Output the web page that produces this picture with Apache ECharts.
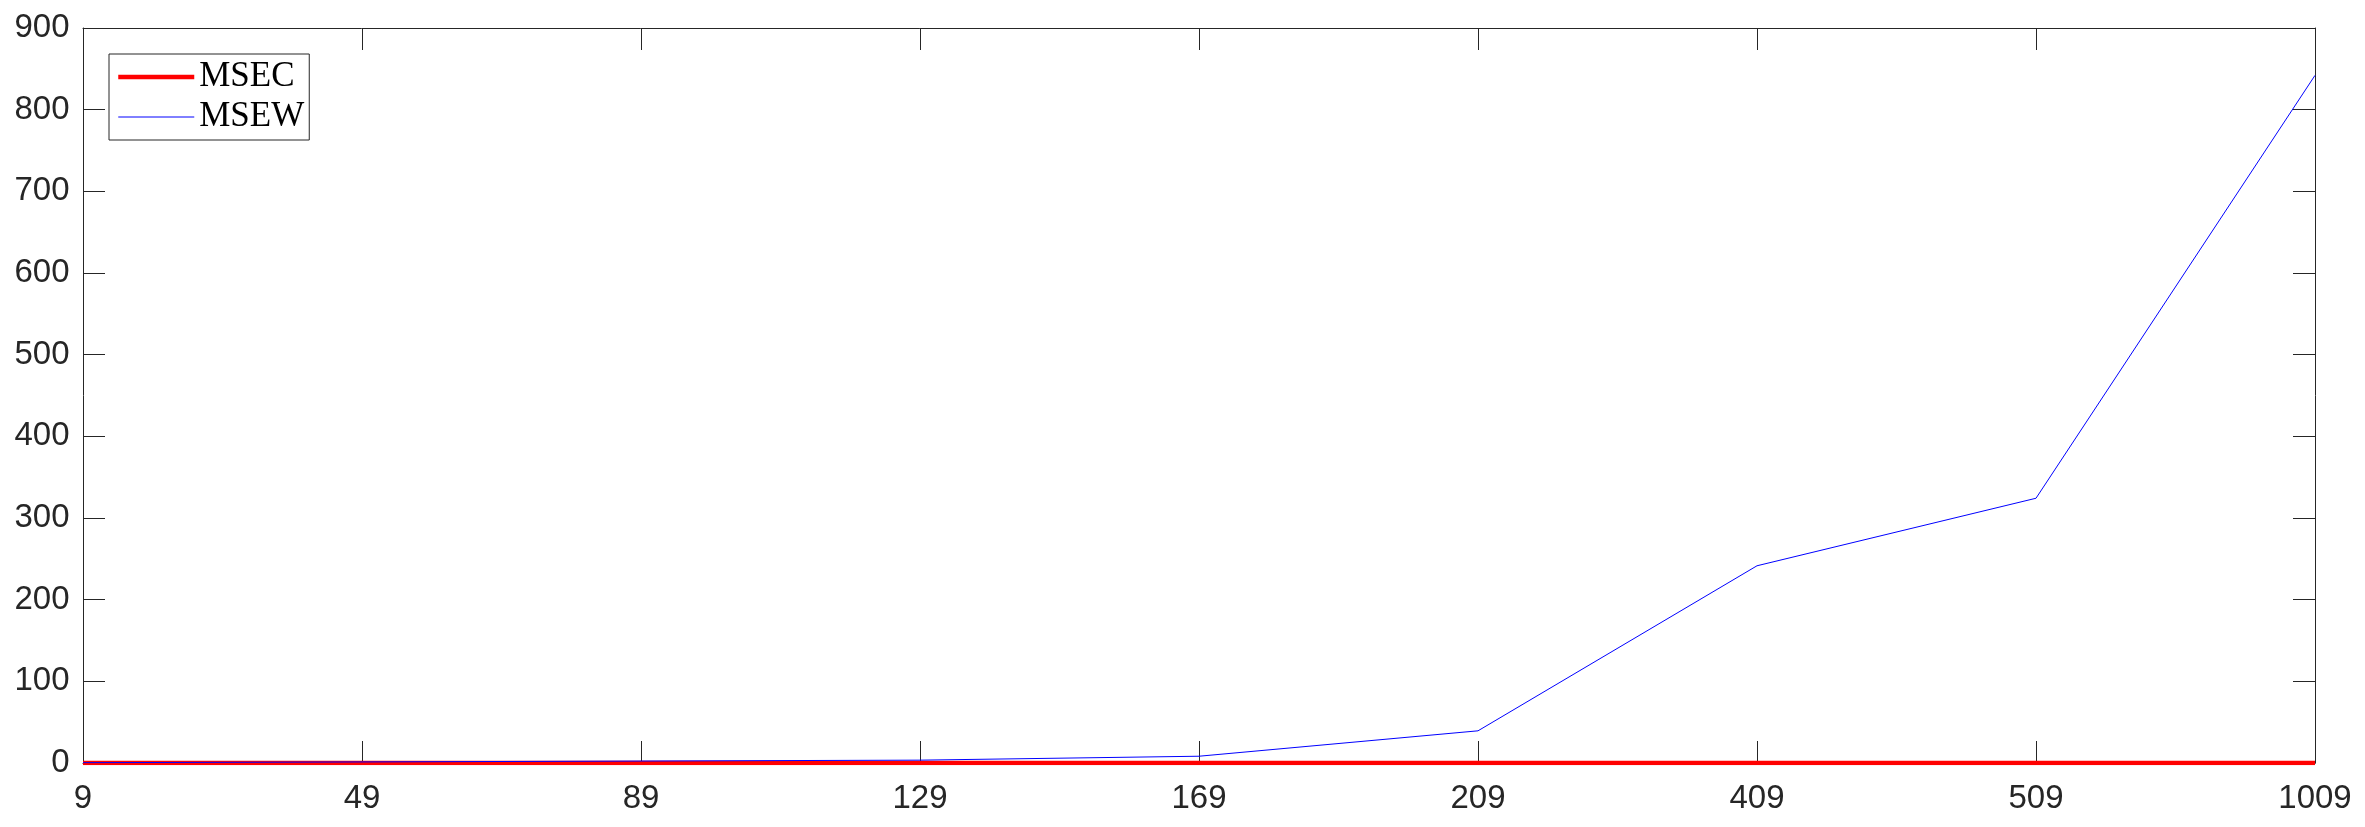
<!DOCTYPE html>
<html>
<head>
<meta charset="utf-8">
<script src="https://cdn.jsdelivr.net/npm/echarts@6/dist/echarts.min.js"></script>
<style>
  html, body { margin: 0; padding: 0; background: #fff; }
  #chart { width: 2365px; height: 827px; }
</style>
</head>
<body>
<div id="chart"></div>
<script>
// x categories (equally spaced)
var categories = ['9', '49', '89', '129', '169', '209', '409', '509', '1009'];
// series values
var msec = [0, 0, 0, 0, 0, 0, 0, 0, 0];
var msew = [0.4, 1.3, 2.4, 3.5, 8.3, 39.4, 241.5, 324.2, 842];
var yTicks = { min: 0, max: 900, step: 100 };

var axisColor = '#262626';
var myChart = echarts.init(document.getElementById('chart'));

// y轴标签补齐到3位(透明数字), 居中放置后效果等同右对齐
function yLabel (v) {
    var s = String(v);
    var pad = '';
    for (var i = s.length; i < 3; i++) pad += '0';
    return (pad ? '{h|' + pad + '}' : '') + '{a|' + s + '}';
}

var option = {
    animation: false,
    backgroundColor: '#fff',
    grid: {
        left: 83,
        right: 50,
        top: 28,
        bottom: 64,
        containLabel: false
    },
    legend: {
        data: [
            { name: 'MSEC', lineStyle: { width: 4.5 } },
            { name: 'MSEW', lineStyle: { width: 1 } }
        ],
        orient: 'vertical',
        left: 109,
        top: 54,
        padding: [5, 5, 5, 7],
        itemWidth: 76,
        itemHeight: 14,
        itemGap: 4,
        backgroundColor: '#fff',
        borderColor: axisColor,
        borderWidth: 1,
        itemStyle: { color: 'rgba(0,0,0,0)', borderWidth: 0 }, // 图例不显示圆点
        textStyle: {
            fontFamily: 'Liberation Serif',
            fontSize: 35,
            lineHeight: 36,
            color: '#000'
        }
    },
    xAxis: [{
        type: 'category',
        data: categories,
        boundaryGap: false,
        axisLine: { onZero: false, lineStyle: { color: axisColor, width: 1 } },
        axisTick: { inside: true, length: 22, interval: 0, lineStyle: { color: axisColor } },
        axisLabel: {
            interval: 0,
            margin: 24,
            lineHeight: 24,
            fontFamily: 'Liberation Sans',
            fontSize: 33,
            color: axisColor
        },
        splitLine: { show: false }
    }, {
        // 上边框
        type: 'category',
        position: 'top',
        data: categories,
        boundaryGap: false,
        axisLine: { show: true, onZero: false, lineStyle: { color: axisColor, width: 1 } },
        axisTick: { show: true, inside: true, length: 22, interval: 0, lineStyle: { color: axisColor, width: 1 } },
        axisLabel: { show: false },
        splitLine: { show: false }
    }],
    yAxis: [{
        type: 'value',
        min: yTicks.min,
        max: yTicks.max,
        interval: yTicks.step,
        axisLine: { show: true, onZero: false, lineStyle: { color: axisColor, width: 1 } },
        axisTick: { show: true, inside: true, length: 22, lineStyle: { color: axisColor } },
        axisLabel: {
            margin: 41,
            align: 'center',
            verticalAlign: 'middle',
            formatter: yLabel,
            fontFamily: 'Liberation Sans',
            fontSize: 33,
            color: axisColor,
            rich: {
                a: { fontFamily: 'Liberation Sans', fontSize: 33, lineHeight: 24, color: axisColor },
                h: { fontFamily: 'Liberation Sans', fontSize: 33, lineHeight: 24, color: 'rgba(0,0,0,0)' }
            }
        },
        splitLine: { show: false }
    }, {
        // 右边框
        type: 'value',
        position: 'right',
        min: yTicks.min,
        max: yTicks.max,
        interval: yTicks.step,
        axisLine: { show: true, onZero: false, lineStyle: { color: axisColor, width: 1 } },
        axisTick: { show: true, inside: true, length: 22, lineStyle: { color: axisColor } },
        axisLabel: { show: false },
        splitLine: { show: false }
    }],
    series: [{
        name: 'MSEC',
        type: 'line',
        data: msec,
        symbol: 'none',
        color: '#ff0000',
        lineStyle: { color: '#ff0000', width: 4.5 }
    }, {
        name: 'MSEW',
        type: 'line',
        data: msew,
        symbol: 'none',
        color: '#0000ff',
        lineStyle: { color: '#0000ff', width: 1 }
    }]
};

myChart.setOption(option);
</script>
</body>
</html>
